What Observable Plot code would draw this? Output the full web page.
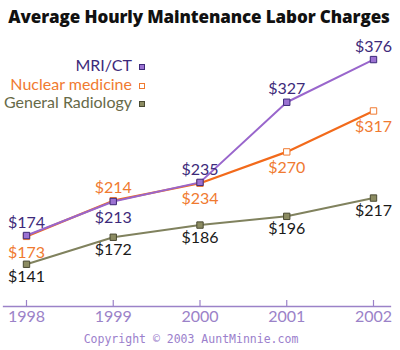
<!DOCTYPE html>
<html>
<head>
<meta charset="utf-8">
<script src="https://cdn.jsdelivr.net/npm/d3@7"></script>
<script src="https://cdn.jsdelivr.net/npm/@observablehq/plot@0.6"></script>
<style>
  html, body { margin: 0; padding: 0; background: #fff; }
  #wrap { position: relative; width: 400px; height: 350px; overflow: hidden; }
  #title { position: absolute; left: 0; top: 5px; width: 398px; text-align: center;
    font-family: "Open Sans", sans-serif; font-weight: 800; font-size: 17px; color: #111; letter-spacing: -0.1px; }
  #chart { position: absolute; left: 0; top: 34px; }
  #legend { position: absolute; left: 0; top: 56px; width: 148px; font-family: Lato, sans-serif; font-size: 16px; }
  .row { height: 18.5px; line-height: 18.5px; text-align: right; white-space: nowrap; }
  .row span.sw { display: inline-block; width: 6px; height: 6px; margin-left: 7px; margin-right: 3px; vertical-align: 1px; box-sizing: border-box; }
  #caption { position: absolute; left: 0; top: 332px; width: 382px; text-align: center;
    font-family: "DejaVu Sans Mono", monospace; font-size: 11.5px; color: #9b80cc; }
</style>
</head>
<body>
<div id="wrap">
  <div id="title">Average Hourly Maintenance Labor Charges</div>
  <div id="chart"></div>
  <div id="legend"></div>
  <div id="caption">Copyright © 2003 AuntMinnie.com</div>
</div>
<script>
const years = [1998, 1999, 2000, 2001, 2002];
const seriesNames = ["MRI/CT", "Nuclear medicine", "General Radiology"];
const mri = [174, 213, 235, 327, 376];
const nuclear = [173, 214, 234, 270, 317];
const general = [141, 172, 186, 196, 217];

const C = {
  mriLine: "#9966cc", mriText: "#3d2a7a", mriFill: "#9b72d2", mriStroke: "#3d2a7a",
  nucLine: "#f26a1b", nucText: "#f07a30",
  genLine: "#80825e", genText: "#1a1a1a", genFill: "#8c8c62", genStroke: "#4a4a32",
  axis: "#9b82c8"
};

const mk = (vals) => years.map((y, i) => ({year: y, v: vals[i], label: "$" + vals[i], i}));
const M = mk(mri), N = mk(nuclear), G = mk(general);

const txt = {fontFamily: "Lato, sans-serif", fontSize: 16, textAnchor: "middle"};

const chart = Plot.plot({
  width: 400,
  height: 294,
  marginTop: 10,
  marginBottom: 22,
  marginLeft: 3,
  marginRight: 10,
  x: {domain: [1997.735, 2002.196]},
  y: {domain: [92.5, 393.3], axis: null},
  style: {background: "transparent", overflow: "visible"},
  marks: [
    Plot.frame({anchor: "bottom", stroke: C.axis, strokeWidth: 1.3}),
    Plot.axisX({ticks: years, tickSize: 6, dy: -6, text: null, stroke: C.axis, strokeWidth: 1.2, label: null}),
    Plot.axisX({ticks: years, tickFormat: d => String(d), tickSize: 0, tickPadding: 4,
      color: C.axis, fill: C.axis, fontSize: 16, fontFamily: "Lato, sans-serif", label: null}),
    Plot.line(G, {x: "year", y: "v", stroke: C.genLine, strokeWidth: 2}),
    Plot.line(N, {x: "year", y: "v", stroke: C.nucLine, strokeWidth: 2.2}),
    Plot.line(M, {x: "year", y: "v", stroke: C.mriLine, strokeWidth: 2}),
    Plot.dot(G, {x: "year", y: "v", symbol: "square", r: 3.6, fill: C.genFill, stroke: C.genStroke, strokeWidth: 1}),
    Plot.dot(N, {x: "year", y: "v", symbol: "square", r: 3.6, fill: "#fff", stroke: C.nucText, strokeWidth: 1}),
    Plot.dot(M, {x: "year", y: "v", symbol: "square", r: 3.6, fill: C.mriFill, stroke: C.mriStroke, strokeWidth: 1}),
    // MRI labels: above except 1999
    Plot.text(M, {filter: d => d.i !== 1, x: "year", y: "v", text: "label", dy: -13, fill: C.mriText, ...txt}),
    Plot.text(M, {filter: d => d.i === 1, x: "year", y: "v", text: "label", dy: 16, fill: C.mriText, ...txt}),
    // Nuclear labels: below except 1999
    Plot.text(N, {filter: d => d.i !== 1, x: "year", y: "v", text: "label", dy: 16, fill: C.nucText, ...txt}),
    Plot.text(N, {filter: d => d.i === 1, x: "year", y: "v", text: "label", dy: -13, fill: C.nucText, ...txt}),
    // General labels: below
    Plot.text(G, {x: "year", y: "v", text: "label", dy: 13, fill: C.genText, ...txt})
  ]
});
document.getElementById("chart").appendChild(chart);

const legendStyles = [
  {color: C.mriText, fill: C.mriFill, stroke: C.mriStroke},
  {color: C.nucText, fill: "#fff", stroke: C.nucText},
  {color: "#676a48", fill: C.genFill, stroke: C.genStroke}
];
const legend = document.getElementById("legend");
seriesNames.forEach((name, k) => {
  const row = document.createElement("div");
  row.className = "row";
  row.style.color = legendStyles[k].color;
  row.textContent = name;
  const sw = document.createElement("span");
  sw.className = "sw";
  sw.style.background = legendStyles[k].fill;
  sw.style.border = "1px solid " + legendStyles[k].stroke;
  row.appendChild(sw);
  legend.appendChild(row);
});
</script>
</body>
</html>
